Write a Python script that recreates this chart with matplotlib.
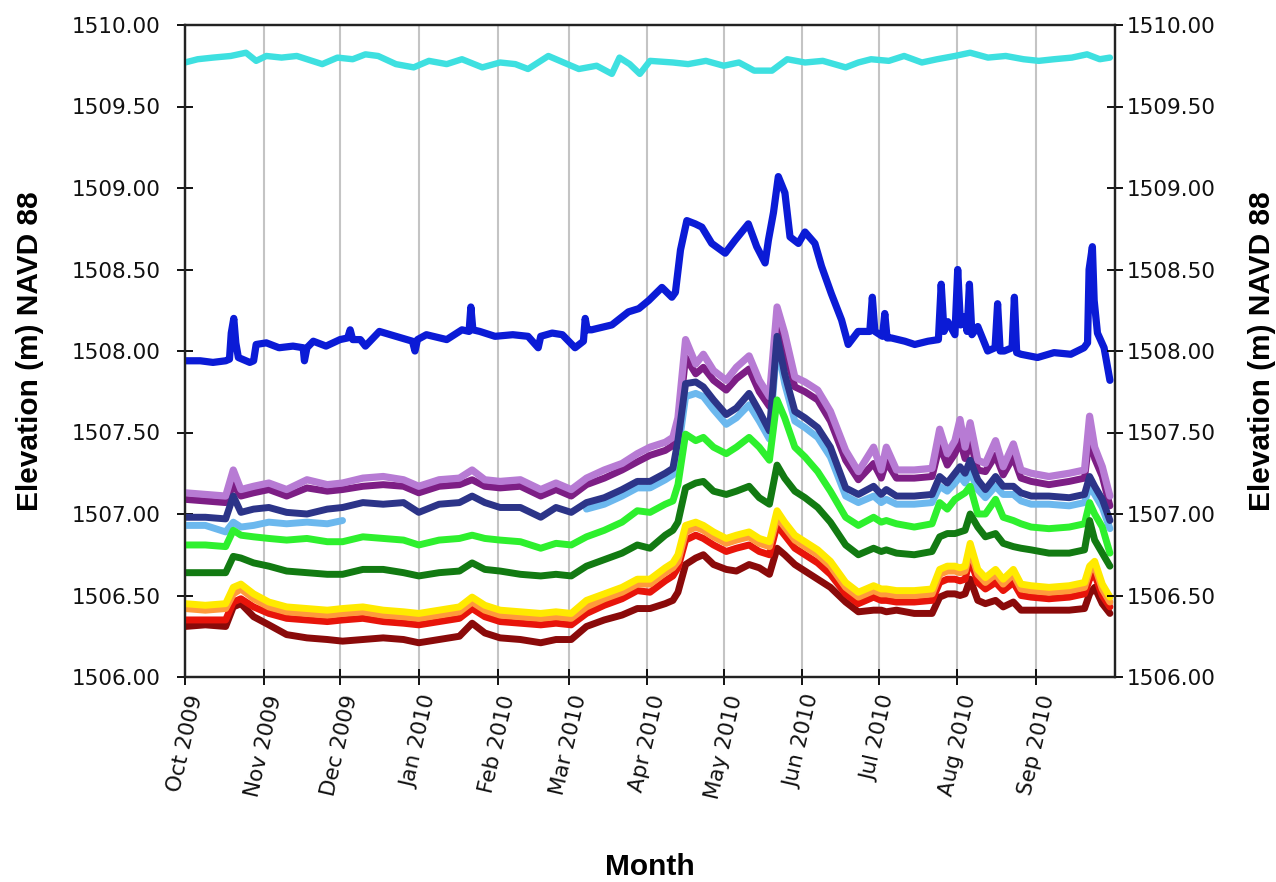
import numpy as np
import pandas as pd
import matplotlib
matplotlib.use('Agg')
import matplotlib.pyplot as plt
from matplotlib import font_manager
from matplotlib.ticker import FixedLocator
from matplotlib.transforms import ScaledTranslation

# ---------------- data ----------------
start_date = '2009-10-01'
x_end = '2010-10-02'

tick_months = ['2009-10-01', '2009-11-01', '2009-12-01', '2010-01-01', '2010-02-01', '2010-03-01',
               '2010-04-01', '2010-05-01', '2010-06-01', '2010-07-01', '2010-08-01', '2010-09-01']
tick_labels = ['Oct 2009', 'Nov 2009', 'Dec 2009', 'Jan 2010', 'Feb 2010', 'Mar 2010',
               'Apr 2010', 'May 2010', 'Jun 2010', 'Jul 2010', 'Aug 2010', 'Sep 2010']
y_ticks = [1506.0, 1506.5, 1507.0, 1507.5, 1508.0, 1508.5, 1509.0, 1509.5, 1510.0]
y_grid = [1507.0, 1508.0, 1509.0]

# days since 1 Oct 2009 for the lower group of wells
grid_days = [0, 8, 16, 19, 22, 27, 33, 40, 48, 56,
             62, 70, 78, 86, 92, 100, 108, 113, 118, 124,
             132, 140, 146, 152, 158, 165, 172, 178, 183, 189,
             192, 194, 197, 201, 204, 208, 213, 217, 222, 226,
             230, 233, 236, 240, 244, 249, 254, 260, 265, 271,
             274, 276, 280, 287, 294, 297, 300, 303, 305, 307,
             309, 312, 315, 319, 322, 326, 329, 333, 340, 348,
             354, 356, 358, 361, 364]

purple_light = [1507.13, 1507.12, 1507.11, 1507.27, 1507.15, 1507.17, 1507.19, 1507.15, 1507.21, 1507.18,
                1507.19, 1507.22, 1507.23, 1507.21, 1507.17, 1507.21, 1507.22, 1507.27, 1507.21, 1507.20,
                1507.21, 1507.15, 1507.19, 1507.15, 1507.22, 1507.27, 1507.31, 1507.37, 1507.41, 1507.44,
                1507.47, 1507.59, 1508.07, 1507.92, 1507.98, 1507.88, 1507.82, 1507.90, 1507.97, 1507.82,
                1507.72, 1508.27, 1508.11, 1507.84, 1507.81, 1507.76, 1507.63, 1507.39, 1507.26, 1507.41,
                1507.27, 1507.41, 1507.27, 1507.27, 1507.28, 1507.52, 1507.37, 1507.45, 1507.58, 1507.41,
                1507.56, 1507.33, 1507.31, 1507.45, 1507.29, 1507.43, 1507.27, 1507.25, 1507.23, 1507.25,
                1507.27, 1507.60, 1507.41, 1507.29, 1507.11]

purple_dark = [1507.09, 1507.08, 1507.07, 1507.18, 1507.11, 1507.13, 1507.15, 1507.11, 1507.16, 1507.14,
               1507.15, 1507.17, 1507.18, 1507.17, 1507.13, 1507.17, 1507.18, 1507.21, 1507.17, 1507.16,
               1507.17, 1507.11, 1507.15, 1507.11, 1507.18, 1507.22, 1507.27, 1507.32, 1507.36, 1507.39,
               1507.42, 1507.52, 1507.96, 1507.86, 1507.90, 1507.82, 1507.76, 1507.83, 1507.89, 1507.75,
               1507.66, 1508.15, 1508.02, 1507.78, 1507.75, 1507.70, 1507.57, 1507.33, 1507.21, 1507.31,
               1507.22, 1507.32, 1507.22, 1507.22, 1507.23, 1507.42, 1507.30, 1507.37, 1507.45, 1507.34,
               1507.45, 1507.27, 1507.26, 1507.36, 1507.24, 1507.35, 1507.22, 1507.20, 1507.18, 1507.20,
               1507.22, 1507.48, 1507.34, 1507.23, 1507.05]

navy = [1506.98, 1506.98, 1506.97, 1507.11, 1507.01, 1507.03, 1507.04, 1507.01, 1507.00, 1507.03,
        1507.04, 1507.07, 1507.06, 1507.07, 1507.01, 1507.06, 1507.07, 1507.11, 1507.07, 1507.04,
        1507.04, 1506.98, 1507.04, 1507.01, 1507.07, 1507.10, 1507.15, 1507.20, 1507.20, 1507.25,
        1507.28, 1507.45, 1507.80, 1507.81, 1507.78, 1507.70, 1507.61, 1507.65, 1507.74, 1507.63,
        1507.51, 1508.09, 1507.86, 1507.63, 1507.59, 1507.53, 1507.41, 1507.16, 1507.12, 1507.17,
        1507.12, 1507.15, 1507.11, 1507.11, 1507.12, 1507.23, 1507.19, 1507.25, 1507.29, 1507.25,
        1507.33, 1507.21, 1507.15, 1507.23, 1507.17, 1507.17, 1507.13, 1507.11, 1507.11, 1507.10,
        1507.12, 1507.23, 1507.17, 1507.09, 1506.96]

nan = float('nan')
light_blue = [1506.93, 1506.93, 1506.89, 1506.95, 1506.92, 1506.93, 1506.95, 1506.94, 1506.95, 1506.94,
              1506.96, nan, nan, nan, nan, nan, nan, nan, nan, nan,
              nan, nan, nan, nan, 1507.03, 1507.06, 1507.11, 1507.16, 1507.16, 1507.21,
              1507.24, 1507.38, 1507.72, 1507.74, 1507.72, 1507.64, 1507.55, 1507.59, 1507.67, 1507.57,
              1507.46, 1508.05, 1507.80, 1507.57, 1507.53, 1507.47, 1507.35, 1507.11, 1507.07, 1507.11,
              1507.07, 1507.09, 1507.06, 1507.06, 1507.07, 1507.17, 1507.14, 1507.19, 1507.23, 1507.19,
              1507.26, 1507.15, 1507.10, 1507.17, 1507.12, 1507.12, 1507.08, 1507.06, 1507.06, 1507.05,
              1507.07, 1507.17, 1507.12, 1507.04, 1506.91]

green_bright = [1506.81, 1506.81, 1506.80, 1506.90, 1506.87, 1506.86, 1506.85, 1506.84, 1506.85, 1506.83,
                1506.83, 1506.86, 1506.85, 1506.84, 1506.81, 1506.84, 1506.85, 1506.87, 1506.85, 1506.84,
                1506.83, 1506.79, 1506.82, 1506.81, 1506.86, 1506.90, 1506.95, 1507.02, 1507.01, 1507.06,
                1507.08, 1507.18, 1507.49, 1507.45, 1507.47, 1507.41, 1507.37, 1507.41, 1507.47, 1507.41,
                1507.33, 1507.70, 1507.59, 1507.41, 1507.35, 1507.26, 1507.14, 1506.98, 1506.93, 1506.98,
                1506.95, 1506.96, 1506.94, 1506.92, 1506.94, 1507.07, 1507.03, 1507.09, 1507.11, 1507.13,
                1507.17, 1507.00, 1507.00, 1507.09, 1506.98, 1506.96, 1506.94, 1506.92, 1506.91, 1506.92,
                1506.94, 1507.07, 1507.00, 1506.92, 1506.76]

green_dark = [1506.64, 1506.64, 1506.64, 1506.74, 1506.73, 1506.70, 1506.68, 1506.65, 1506.64, 1506.63,
              1506.63, 1506.66, 1506.66, 1506.64, 1506.62, 1506.64, 1506.65, 1506.70, 1506.66, 1506.65,
              1506.63, 1506.62, 1506.63, 1506.62, 1506.68, 1506.72, 1506.76, 1506.81, 1506.79, 1506.87,
              1506.90, 1506.95, 1507.16, 1507.19, 1507.20, 1507.14, 1507.12, 1507.14, 1507.17, 1507.10,
              1507.06, 1507.30, 1507.22, 1507.14, 1507.10, 1507.04, 1506.95, 1506.81, 1506.75, 1506.79,
              1506.77, 1506.78, 1506.76, 1506.75, 1506.77, 1506.86, 1506.88, 1506.88, 1506.89, 1506.90,
              1507.00, 1506.92, 1506.86, 1506.88, 1506.82, 1506.80, 1506.79, 1506.78, 1506.76, 1506.76,
              1506.78, 1506.96, 1506.84, 1506.76, 1506.68]

yellow = [1506.45, 1506.44, 1506.45, 1506.55, 1506.57, 1506.51, 1506.46, 1506.43, 1506.42, 1506.41,
          1506.42, 1506.43, 1506.41, 1506.40, 1506.39, 1506.41, 1506.43, 1506.49, 1506.44, 1506.41,
          1506.40, 1506.39, 1506.40, 1506.39, 1506.47, 1506.51, 1506.55, 1506.60, 1506.60, 1506.67,
          1506.70, 1506.75, 1506.93, 1506.95, 1506.93, 1506.89, 1506.85, 1506.87, 1506.89, 1506.85,
          1506.83, 1507.02, 1506.95, 1506.87, 1506.83, 1506.78, 1506.71, 1506.58, 1506.52, 1506.56,
          1506.54, 1506.54, 1506.53, 1506.53, 1506.54, 1506.66, 1506.68, 1506.68, 1506.67, 1506.68,
          1506.82, 1506.66, 1506.61, 1506.66, 1506.60, 1506.66, 1506.57, 1506.56, 1506.55, 1506.56,
          1506.58, 1506.68, 1506.71, 1506.57, 1506.49]

orange = [1506.42, 1506.41, 1506.42, 1506.51, 1506.54, 1506.48, 1506.43, 1506.40, 1506.39, 1506.38,
          1506.39, 1506.40, 1506.38, 1506.37, 1506.36, 1506.38, 1506.40, 1506.46, 1506.41, 1506.38,
          1506.37, 1506.36, 1506.37, 1506.36, 1506.43, 1506.48, 1506.52, 1506.57, 1506.57, 1506.64,
          1506.67, 1506.71, 1506.89, 1506.92, 1506.90, 1506.86, 1506.82, 1506.84, 1506.86, 1506.82,
          1506.80, 1506.98, 1506.92, 1506.84, 1506.80, 1506.75, 1506.68, 1506.55, 1506.49, 1506.53,
          1506.51, 1506.51, 1506.50, 1506.50, 1506.51, 1506.63, 1506.65, 1506.65, 1506.64, 1506.65,
          1506.78, 1506.63, 1506.58, 1506.63, 1506.57, 1506.63, 1506.54, 1506.53, 1506.52, 1506.53,
          1506.55, 1506.65, 1506.68, 1506.54, 1506.46]

red = [1506.35, 1506.35, 1506.35, 1506.46, 1506.48, 1506.43, 1506.39, 1506.36, 1506.35, 1506.34,
       1506.35, 1506.36, 1506.34, 1506.33, 1506.32, 1506.34, 1506.36, 1506.42, 1506.37, 1506.34,
       1506.33, 1506.32, 1506.33, 1506.32, 1506.39, 1506.44, 1506.48, 1506.53, 1506.52, 1506.59,
       1506.62, 1506.67, 1506.84, 1506.87, 1506.85, 1506.81, 1506.77, 1506.79, 1506.81, 1506.77,
       1506.75, 1506.93, 1506.87, 1506.79, 1506.75, 1506.70, 1506.63, 1506.51, 1506.45, 1506.49,
       1506.47, 1506.47, 1506.46, 1506.46, 1506.47, 1506.58, 1506.60, 1506.60, 1506.59, 1506.60,
       1506.73, 1506.58, 1506.54, 1506.58, 1506.53, 1506.58, 1506.50, 1506.49, 1506.48, 1506.49,
       1506.51, 1506.60, 1506.63, 1506.50, 1506.43]

dark_red = [1506.31, 1506.32, 1506.31, 1506.43, 1506.45, 1506.37, 1506.32, 1506.26, 1506.24, 1506.23,
            1506.22, 1506.23, 1506.24, 1506.23, 1506.21, 1506.23, 1506.25, 1506.33, 1506.27, 1506.24,
            1506.23, 1506.21, 1506.23, 1506.23, 1506.31, 1506.35, 1506.38, 1506.42, 1506.42, 1506.45,
            1506.47, 1506.52, 1506.69, 1506.73, 1506.75, 1506.69, 1506.66, 1506.65, 1506.69, 1506.67,
            1506.63, 1506.79, 1506.75, 1506.69, 1506.65, 1506.60, 1506.55, 1506.46, 1506.40, 1506.41,
            1506.41, 1506.40, 1506.41, 1506.39, 1506.39, 1506.49, 1506.51, 1506.51, 1506.50, 1506.51,
            1506.60, 1506.47, 1506.45, 1506.47, 1506.43, 1506.46, 1506.41, 1506.41, 1506.41, 1506.41,
            1506.42, 1506.51, 1506.55, 1506.45, 1506.39]

blue_days = [0, 6, 11, 16, 17.5, 18.2, 19.2, 20, 21, 25.5, 27, 28, 32, 37, 42.5, 46.5, 47, 48, 50.5, 55.5,
             61, 64, 65, 66, 69, 71, 76.5, 83, 89.5, 90.5, 91.5, 95, 103, 109, 111.8, 112.5, 113.3, 116,
             122, 129, 135, 139, 140, 144.5, 148.5, 153.5, 156.8, 157.5, 158.3, 160, 168, 174.5, 178.6,
             182.5, 187.7, 191.6, 193, 195, 197.5, 200.8, 203.4, 207.3, 212.6, 216.5, 221.7, 225, 228.3,
             229.6, 231.6, 233.5, 236.1, 238.1, 241.4, 244, 247.9, 250.5, 254.4, 258.4, 261, 264.9, 269.5,
             270.5, 271.5, 274.5, 275.4, 276.3, 278, 283.3, 287.2, 292.4, 296.5, 297.6, 298.7, 300.2, 303,
             304.1, 305.2, 306.8, 307.8, 308.7, 309.7, 312, 315.9, 318.8, 319.8, 320.8, 322.4, 325.5, 326.4,
             327.3, 329, 335.5, 342, 348.6, 353.8, 355.2, 355.8, 357.1, 357.8, 359.1, 361.7, 364]
blue = [1507.94, 1507.94, 1507.93, 1507.94, 1507.95, 1508.11, 1508.20, 1508.05, 1507.96, 1507.93,
        1507.94, 1508.04, 1508.05, 1508.02, 1508.03, 1508.02, 1507.94, 1508.02, 1508.06, 1508.03,
        1508.07, 1508.08, 1508.13, 1508.07, 1508.07, 1508.03, 1508.12, 1508.09, 1508.06, 1508.00,
        1508.07, 1508.10, 1508.07, 1508.13, 1508.12, 1508.27, 1508.13, 1508.12, 1508.09, 1508.10,
        1508.09, 1508.02, 1508.09, 1508.11, 1508.10, 1508.02, 1508.06, 1508.20, 1508.13, 1508.13,
        1508.16, 1508.24, 1508.26, 1508.31, 1508.39, 1508.33, 1508.36, 1508.62, 1508.80, 1508.78,
        1508.76, 1508.66, 1508.60, 1508.68, 1508.78, 1508.64, 1508.54, 1508.68, 1508.85, 1509.07,
        1508.97, 1508.70, 1508.66, 1508.73, 1508.66, 1508.52, 1508.35, 1508.19, 1508.04, 1508.12,
        1508.12, 1508.33, 1508.12, 1508.09, 1508.23, 1508.08, 1508.08, 1508.06, 1508.04, 1508.06,
        1508.07, 1508.41, 1508.12, 1508.18, 1508.10, 1508.50, 1508.16, 1508.21, 1508.12, 1508.41,
        1508.10, 1508.15, 1508.00, 1508.02, 1508.29, 1508.00, 1508.00, 1508.02, 1508.33, 1507.99,
        1507.98, 1507.96, 1507.99, 1507.98, 1508.02, 1508.05, 1508.50, 1508.64, 1508.31, 1508.11,
        1508.02, 1507.82]

cyan_days = [0, 5, 11, 18, 24, 28, 32, 38, 44, 54, 60, 66, 71, 76, 83, 90, 96, 103, 109, 117,
             124, 130, 135, 143, 149, 155, 162, 168, 171, 175, 179, 183, 192, 198, 205, 212, 218, 224, 231, 237,
             244, 251, 260, 265, 270, 277, 283, 290, 296, 303, 309, 316, 323, 330, 336, 342, 349, 355, 360, 364]
cyan = [1509.77, 1509.79, 1509.80, 1509.81, 1509.83, 1509.78, 1509.81, 1509.80, 1509.81, 1509.76,
        1509.80, 1509.79, 1509.82, 1509.81, 1509.76, 1509.74, 1509.78, 1509.76, 1509.79, 1509.74,
        1509.77, 1509.76, 1509.73, 1509.81, 1509.77, 1509.73, 1509.75, 1509.70, 1509.80, 1509.76,
        1509.70, 1509.78, 1509.77, 1509.76, 1509.78, 1509.75, 1509.77, 1509.72, 1509.72, 1509.79,
        1509.77, 1509.78, 1509.74, 1509.77, 1509.79, 1509.78, 1509.81, 1509.77, 1509.79, 1509.81,
        1509.83, 1509.80, 1509.81, 1509.79, 1509.78, 1509.79, 1509.80, 1509.82, 1509.79, 1509.80]

# ---------------- figure ----------------
start = pd.Timestamp(start_date)


def to_dates(days):
    return start + pd.to_timedelta(np.asarray(days, dtype=float), unit='D')


names = {f.name for f in font_manager.fontManager.ttflist}
if 'Liberation Sans Narrow' in names:
    label_font = dict(family='Liberation Sans Narrow', fontsize=25, fontweight='bold')
else:
    label_font = dict(family='Liberation Sans', fontsize=21.5, fontweight='bold')
tick_font = dict(family='DejaVu Sans', size=15.5)

fig = plt.figure(figsize=(12.76, 8.82), dpi=100)
ax = fig.add_axes([185 / 1276, 1 - 677 / 882, 930 / 1276, 652 / 882])

gd = to_dates(grid_days)
series = [
    (to_dates(cyan_days), cyan, '#3EE0E0', 4.6),
    (to_dates(blue_days), blue, '#0B1BD6', 5.2),
    (gd, purple_dark, '#7D1E85', 5.0),
    (gd, purple_light, '#B77BD4', 5.2),
    (gd, light_blue, '#6CB8EE', 5.0),
    (gd, navy, '#2C3488', 5.0),
    (gd, green_bright, '#2EF02E', 5.0),
    (gd, green_dark, '#127A12', 5.0),
    (gd, dark_red, '#8A0A0A', 5.0),
    (gd, red, '#E8140A', 5.0),
    (gd, orange, '#FF9A3C', 5.0),
    (gd, yellow, '#FFEA00', 5.0),
]
for i, (xd, yd, col, lw) in enumerate(series):
    ax.plot(xd, yd, color=col, lw=lw, solid_joinstyle='round', solid_capstyle='round', zorder=3 + i)

ax.set_xlim(pd.Timestamp(start_date), pd.Timestamp(x_end))
ax.set_ylim(y_ticks[0], y_ticks[-1])

tick_pos = pd.to_datetime(tick_months)
ax.set_xticks(tick_pos)
ax.set_xticklabels(tick_labels, rotation=77, ha='center', va='top', fontdict=tick_font, color='#111111')
offset = ScaledTranslation(-6 / 100, 0, fig.dpi_scale_trans)
for lab in ax.get_xticklabels():
    lab.set_transform(lab.get_transform() + offset)

ax.set_yticks(y_ticks)
ax.set_yticklabels(['%.2f' % v for v in y_ticks], fontdict=tick_font, color='#111111')
ax.yaxis.set_minor_locator(FixedLocator(y_grid))

ax.grid(True, axis='x', which='major', color='#C4C4C4', lw=1.5, zorder=0)
ax.grid(True, axis='y', which='minor', color='#C4C4C4', lw=1.5, zorder=0)
ax.set_axisbelow(True)

ax.tick_params(axis='y', which='major', direction='inout', length=11, width=1.3, pad=12)
ax.tick_params(axis='x', which='major', direction='inout', length=11, width=1.3, pad=6)
ax.tick_params(which='minor', length=0)
for sp in ax.spines.values():
    sp.set_linewidth(1.6)
    sp.set_color('#222222')

ax2 = ax.twinx()
ax2.set_ylim(y_ticks[0], y_ticks[-1])
ax2.set_yticks(y_ticks)
ax2.set_yticklabels(['%.2f' % v for v in y_ticks], fontdict=tick_font, color='#111111')
ax2.tick_params(axis='y', direction='inout', length=11, width=1.3, pad=3)
for sp in ax2.spines.values():
    sp.set_linewidth(1.6)
    sp.set_color('#222222')

ax.set_ylabel('Elevation (m) NAVD 88', rotation=90, ha='center', va='center', **label_font)
ax.yaxis.set_label_coords((30 - 185) / 930, 0.5)
ax2.set_ylabel('Elevation (m) NAVD 88', rotation=90, ha='center', va='center', **label_font)
ax2.yaxis.set_label_coords((1262 - 185) / 930, 0.5)
ax.set_xlabel('Month', ha='center', va='center', **label_font)
ax.xaxis.set_label_coords(0.5, (677 - 867) / 652)

fig.savefig('out.png', dpi=100)
